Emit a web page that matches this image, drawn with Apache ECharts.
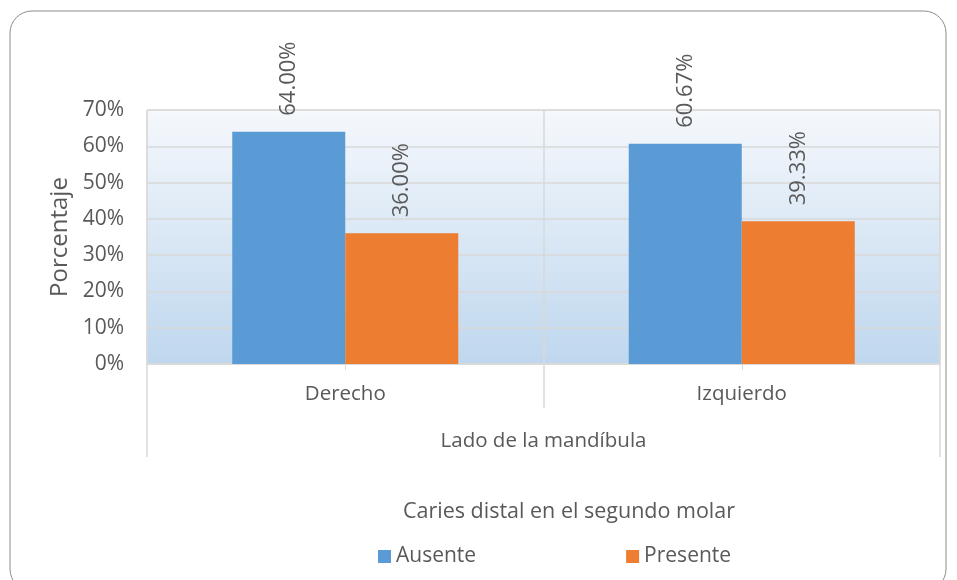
<!DOCTYPE html>
<html>
<head>
<meta charset="utf-8">
<script src="https://cdn.jsdelivr.net/npm/echarts@6/dist/echarts.min.js"></script>
<style>
  html, body { margin: 0; padding: 0; background: #fff; }
  #chart { width: 957px; height: 580px; }
</style>
</head>
<body>
<div id="chart"></div>
<script>
// datos
var categorias = ["Derecho", "Izquierdo"];
var ausente = [0.64, 0.6067];
var presente = [0.36, 0.3933];
var yTicks = [0, 0.1, 0.2, 0.3, 0.4, 0.5, 0.6, 0.7];

var textColor = "#595959";
var lineColor = "#d9d9d9";
var fontFam = "'Open Sans', 'Noto Sans', sans-serif";

var myChart = echarts.init(document.getElementById("chart"), null, { renderer: "canvas" });

var labelCfg = {
  show: true,
  position: "top",
  rotate: 90,
  align: "left",
  verticalAlign: "middle",
  distance: 16,
  color: textColor,
  fontFamily: fontFam,
  fontSize: 22,
  formatter: function (p) {
    return (p.value * 100).toFixed(2) + "%";
  },
};

var option = {
  animation: false,
  backgroundColor: "#fff",
  graphic: [
    {
      type: "rect",
      shape: { x: 10, y: 11, width: 936, height: 580, r: 22 },
      style: { fill: "none", stroke: "#8c8c8c", lineWidth: 1 },
      z: 0,
    },
  ],
  title: {
    text: "Caries distal en el segundo molar",
    left: 564,
    top: 496,
    textAlign: "center",
    textStyle: { color: textColor, fontFamily: fontFam, fontSize: 21.5, fontWeight: "normal" },
  },
  legend: {
    left: 373,
    top: 541,
    itemWidth: 13,
    itemHeight: 13,
    itemGap: 150,
    icon: "rect",
    textStyle: { color: textColor, fontFamily: fontFam, fontSize: 21 },
    data: ["Ausente", "Presente"],
  },
  grid: {
    left: 147,
    right: 17,
    top: 110,
    bottom: 216,
    show: true,
    borderColor: lineColor,
    borderWidth: 1,
    backgroundColor: new echarts.graphic.LinearGradient(0, 0, 0, 1, [
      { offset: 0, color: "#f5f8fc" },
      { offset: 1, color: "#bfd7ee" },
    ]),
  },
  xAxis: [
    {
      type: "category",
      data: categorias,
      axisLine: { lineStyle: { color: lineColor, width: 1.5 } },
      axisTick: { show: true, alignWithLabel: true, length: 6, lineStyle: { color: lineColor } },
      axisLabel: { color: textColor, fontFamily: fontFam, fontSize: 20.5, margin: 20 },
      splitLine: { show: false },
    },
    {
      type: "category",
      data: categorias,
      position: "bottom",
      axisLine: { show: false },
      axisTick: { show: true, length: 44, lineStyle: { color: lineColor, width: 1.5 } },
      axisLabel: { show: false },
      splitLine: { show: true, lineStyle: { color: lineColor, width: 1.5 } },
    },
    {
      type: "category",
      data: ["Lado de la mandíbula"],
      position: "bottom",
      axisLine: { show: false },
      axisTick: { show: true, length: 93, lineStyle: { color: lineColor, width: 1.5 } },
      axisLabel: { color: textColor, fontFamily: fontFam, fontSize: 20.5, margin: 67 },
    },
  ],
  yAxis: {
    type: "value",
    min: 0,
    max: 0.7,
    interval: 0.1,
    name: "Porcentaje",
    nameLocation: "middle",
    nameGap: 72,
    nameTextStyle: { color: textColor, fontFamily: fontFam, fontSize: 24 },
    axisLine: { show: false },
    axisTick: { show: false },
    axisLabel: {
      color: textColor,
      fontFamily: fontFam,
      fontSize: 21,
      margin: 23,
      formatter: function (v) {
        return Math.round(v * 100) + "%";
      },
    },
    splitLine: { show: true, lineStyle: { color: lineColor, width: 1.5 } },
  },
  series: [
    {
      name: "Ausente",
      type: "bar",
      xAxisIndex: 0,
      barGap: "0%",
      barCategoryGap: "43%",
      itemStyle: { color: "#5b9bd5" },
      label: labelCfg,
      data: ausente,
    },
    {
      name: "Presente",
      type: "bar",
      xAxisIndex: 0,
      itemStyle: { color: "#ed7d31" },
      label: labelCfg,
      data: presente,
    },
  ],
};

myChart.setOption(option);
window.addEventListener("resize", myChart.resize);
</script>
</body>
</html>
